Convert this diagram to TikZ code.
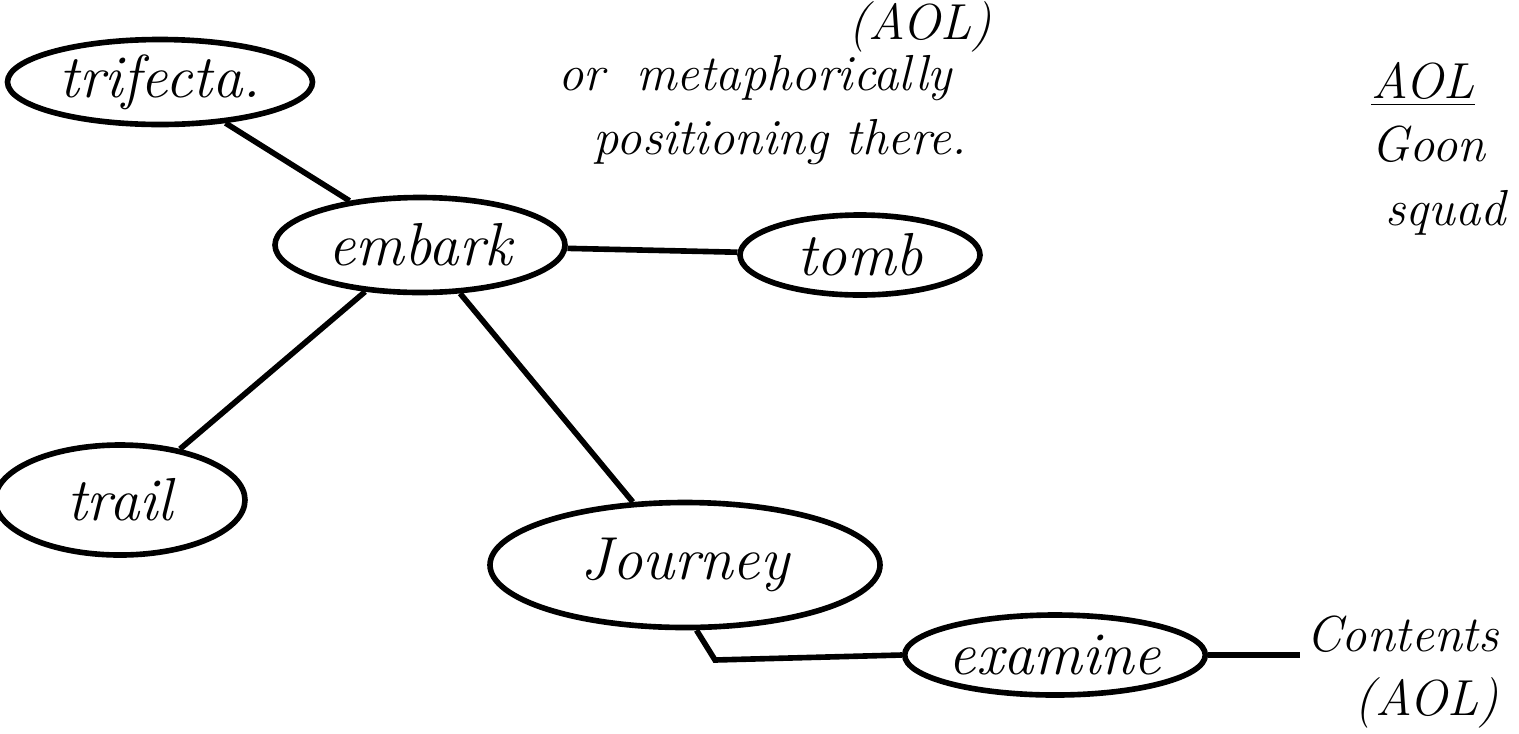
\documentclass[tikz,border=0pt]{standalone}
\usetikzlibrary{shapes.geometric}

\begin{document}
\begin{tikzpicture}[line width=1.6pt,
    word/.style={ellipse, draw, inner sep=0pt, font=\LARGE\itshape},
    note/.style={font=\Large\itshape, align=center, inner sep=1pt}]
                \useasboundingbox (0,0) rectangle (15.19,-7.33);
                % bubbles
                \node[word, minimum width=3.05cm, minimum height=0.85cm] (trifecta) at (1.6,-0.82) {trifecta.};
                \node[word, minimum width=2.9cm, minimum height=0.95cm] (embark) at (4.2,-2.45) {embark};
                \node[word, minimum width=2.4cm, minimum height=0.8cm] (tomb) at (8.6,-2.55) {tomb};
                \node[word, minimum width=2.5cm, minimum height=1.1cm] (trail) at (1.2,-5.0) {trail};
                \node[word, minimum width=3.9cm, minimum height=1.25cm] (journey) at (6.85,-5.65) {Journey};
                \node[word, minimum width=2.7cm, minimum height=0.8cm] (examine) at (10.55,-6.55) {examine};
                % notes
                \node[note, anchor=north] (aoltop) at (9.2,0.05) {(AOL)};
                \node[note] (meta) at (7.55,-1.1) {or\; metaphorically\\ \quad positioning there.};
                \node[note, anchor=north east, align=left] (goon) at (15.12,-1.2) {Goon\\ \;squad};
                \node[note, anchor=south west] (aol) at ([yshift=2pt]goon.north west) {\underline{AOL}};
                \node[note, anchor=north west, align=right] (contents) at (13.0,-6.1) {Contents\\ (AOL)};
                \coordinate (bend) at (7.15,-6.6);
                % links
                \draw (trifecta) -- (embark);
                \draw (embark) -- (tomb);
                \draw (embark) -- (trail);
                \draw (embark) -- (journey);
                \draw (journey.-80) -- (bend) -- (examine.west);
                \draw (examine.east) -- (examine.east -| contents.west);
                \end{tikzpicture}
\end{document}
